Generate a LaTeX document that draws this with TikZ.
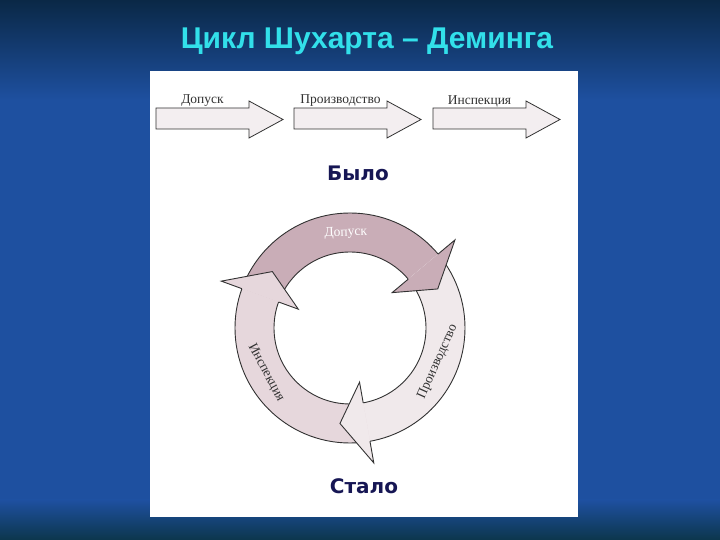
\documentclass[tikz,border=0pt]{standalone}
\usepackage{fontspec}
\setmainfont{Liberation Serif}
\newfontfamily\titlefont{Liberation Sans}
\newfontfamily\boldfont{DejaVu Sans}
\usepackage{tikz}
\usepackage{xcolor}

\definecolor{bgblue}{RGB}{30,80,160}
\definecolor{bgdark}{RGB}{10,40,70}
\definecolor{bgfoot}{RGB}{12,54,76}
\definecolor{titlecyan}{RGB}{50,224,234}
\definecolor{navy}{RGB}{22,22,84}
\definecolor{dopfill}{RGB}{201,173,183}
\definecolor{profill}{RGB}{240,233,235}
\definecolor{insfill}{RGB}{230,215,220}
\definecolor{flatfill}{RGB}{243,238,240}
\definecolor{edge}{RGB}{50,50,50}

\tikzset{
  flat/.style={draw=edge, fill=flatfill, line width=0.8pt, line join=miter},
  ring/.style={draw=edge, line width=0.9pt, line join=miter},
  small/.style={font=\fontsize{13.5}{13.5}\selectfont, inner sep=1pt},
  big/.style={anchor=base, text=navy, font=\boldfont\bfseries\fontsize{20}{20}\selectfont},
}

\begin{document}
\begin{tikzpicture}[x=1pt,y=1pt]
  \useasboundingbox (0,0) rectangle (720,540);
  \fill[bgblue] (0,0) rectangle (720,540);
  \shade[top color=bgdark, bottom color=bgblue] (0,440) rectangle (720,540);
  \shade[top color=bgblue, bottom color=bgfoot] (0,40) rectangle (720,0);
  \node (title) [anchor=base, text=titlecyan, font=\titlefont\bfseries\fontsize{30}{30}\selectfont] at (367,491) {Цикл Шухарта – Деминга};
  \fill[white] (150,23) rectangle (578,469);

  \foreach \x/\txt/\nm in {156/Допуск/dop, 294/Производство/pro, 433/Инспекция/ins} {
    \draw[flat] (\x,411) -- ++(93,0) -- ++(0,-9) -- ++(34,18.5) -- ++(-34,18.5) -- ++(0,-7) -- ++(-93,0) -- cycle;
    \node (top\nm) [small, anchor=south, text=edge] at (\x+46.5,432) {\txt};
  }
  \node (was) [big] at (358,359) {Было};
  \node (now) [big] at (364,46) {Стало};

  \begin{scope}[shift={(350,212)}]
    \foreach \a/\b/\col in {160/40/dopfill, 40/-80/profill, -80/-200/insfill}
      \fill[\col] (\a:115pt) arc[start angle=\a, end angle=\b, radius=115pt] -- (\b:76pt) arc[start angle=\b, end angle=\a, radius=76pt] -- cycle;
    \draw[ring] (0,0) circle[radius=115pt];
    \draw[ring] (0,0) circle[radius=76pt];
    \foreach \b/\col in {40/dopfill, -80/profill, -200/insfill} {
      \fill[\col] (\b:76pt) -- (\b:55pt) -- (\b-16:96pt) -- (\b:137pt) -- (\b:115pt) -- cycle;
      \draw[ring] (\b:76pt) -- (\b:55pt) -- (\b-16:96pt) -- (\b:137pt) -- (\b:115pt);
    }
    \node (cdop) [small, text=white, rotate=2] at (92.5:95pt) {Допуск};
    \node (cpro) [small, text=edge, rotate=66] at (-21:94pt) {Производство};
    \node (cins) [small, text=edge, rotate=-62] at (208:95pt) {Инспекция};
  \end{scope}
\end{tikzpicture}
\end{document}
